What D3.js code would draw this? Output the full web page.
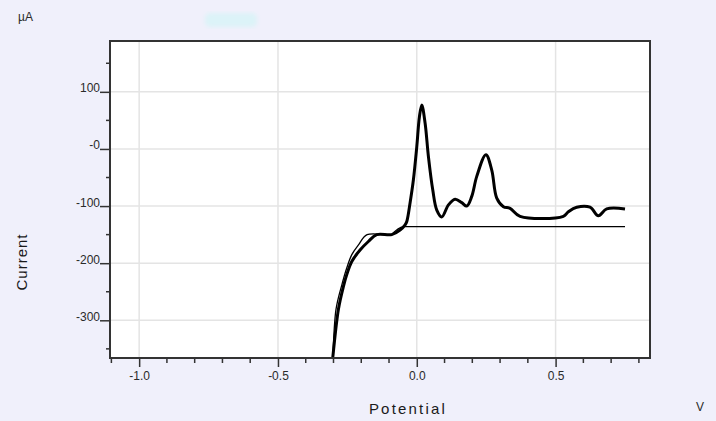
<!DOCTYPE html>
<html>
<head>
<meta charset="utf-8">
<script src="https://cdn.jsdelivr.net/npm/d3@7"></script>
<style>
  body { margin: 0; background: #f0f0fb; }
  svg { display: block; font-family: "Liberation Sans", Arial, sans-serif; }
</style>
</head>
<body>
<div id="chart"></div>
<script>
// forward sweep (thick trace), potential in V, current in uA
const fwdV = [-0.307, -0.3026, -0.2824, -0.2644, -0.2522, -0.2341, -0.2043, -0.1744, -0.1441, -0.0901,
  -0.0602, -0.0421, -0.036, -0.0241, -0.0122, 0.0, 0.0094, 0.018, 0.030, 0.0418, 0.0576, 0.072,
  0.090, 0.114, 0.138, 0.162, 0.180, 0.198, 0.216, 0.249, 0.270, 0.288, 0.312, 0.336, 0.372,
  0.528, 0.546, 0.576, 0.624, 0.654, 0.684, 0.750];
const fwdI = [-386, -365, -281, -241, -220, -197, -177, -162, -150, -150,
  -142, -133, -127, -94, -54, 4, 56, 77, 45, -13, -72, -107,
  -119, -98, -88, -94, -100, -83, -48, -10, -37, -86, -101, -104, -118,
  -118, -110, -102, -102, -117, -105, -105];

// return sweep / baseline (thin trace)
const revV = [0.750, -0.0386, -0.049, -0.067, -0.085, -0.0926, -0.179, -0.210, -0.234, -0.252, -0.270, -0.291, -0.303, -0.307];
const revI = [-136, -136, -136, -140, -147, -150, -150, -168, -185, -208, -238, -281, -365, -386];

const xTicks = [-1.0, -0.5, 0.0, 0.5];
const xMinor = [-1.1, -0.9, -0.8, -0.7, -0.6, -0.4, -0.3, -0.2, -0.1, 0.1, 0.2, 0.3, 0.4, 0.6, 0.7, 0.8];
const xLabels = ["-1.0", "-0.5", "0.0", "0.5"];
const yTicks = [100, 0, -100, -200, -300];
const yMinor = [150, 50, -50, -150, -250, -350];
const yLabels = ["100", "-0", "-100", "-200", "-300"];

const svgWidth = 716, svgHeight = 421;
const margin = { top: 41, right: 66, bottom: 63, left: 110 };
const width = svgWidth - margin.left - margin.right;
const height = svgHeight - margin.top - margin.bottom;

const svg = d3.select("#chart").append("svg")
  .attr("width", svgWidth)
  .attr("height", svgHeight);

// faint smudge near the title area
const defs = svg.append("defs");
defs.append("filter").attr("id", "blur").append("feGaussianBlur").attr("stdDeviation", 2);
defs.append("clipPath").attr("id", "plotclip").append("rect")
  .attr("width", width).attr("height", height);

svg.append("rect")
  .attr("x", 205).attr("y", 13).attr("width", 52).attr("height", 14).attr("rx", 5)
  .attr("fill", "#dcf3f8").attr("filter", "url(#blur)");

const chart = svg.append("g")
  .attr("transform", `translate(${margin.left}, ${margin.top})`);

const xScale = d3.scaleLinear().domain([-1.105, 0.84]).range([0, width]);
const yScale = d3.scaleLinear().domain([-366, 189]).range([height, 0]);

chart.append("rect")
  .attr("width", width).attr("height", height)
  .attr("fill", "#fff");

// grid
chart.selectAll(".vgrid").data(xTicks).enter().append("line")
  .attr("x1", d => xScale(d)).attr("x2", d => xScale(d))
  .attr("y1", 0).attr("y2", height)
  .attr("stroke", "#e4e4e4").attr("stroke-width", 1.5);
chart.selectAll(".hgrid").data(yTicks).enter().append("line")
  .attr("x1", 0).attr("x2", width)
  .attr("y1", d => yScale(d)).attr("y2", d => yScale(d))
  .attr("stroke", "#e4e4e4").attr("stroke-width", 1.5);

// traces
const line = d3.line()
  .x(d => xScale(d[0]))
  .y(d => yScale(d[1]))
  .curve(d3.curveCatmullRom.alpha(0.5));

const plot = chart.append("g").attr("clip-path", "url(#plotclip)");
plot.append("path")
  .datum(revV.map((v, i) => [v, revI[i]]))
  .attr("d", line)
  .attr("fill", "none").attr("stroke", "#000").attr("stroke-width", 1.3);
plot.append("path")
  .datum(fwdV.map((v, i) => [v, fwdI[i]]))
  .attr("d", line)
  .attr("fill", "none").attr("stroke", "#000").attr("stroke-width", 3);

// frame
chart.append("rect")
  .attr("width", width).attr("height", height)
  .attr("fill", "none").attr("stroke", "#333").attr("stroke-width", 2);

// x axis
const xAxis = chart.append("g")
  .attr("transform", `translate(0, ${height})`)
  .call(d3.axisBottom(xScale).tickValues(xTicks).tickSize(9).tickFormat((d, i) => xLabels[i]));
xAxis.append("g").selectAll("line").data(xMinor).enter().append("line")
  .attr("x1", d => xScale(d)).attr("x2", d => xScale(d))
  .attr("y1", 0).attr("y2", 5).attr("stroke", "#333").attr("stroke-width", 1.5);

// y axis: labels sit on the tick like "100_"
const yAxis = chart.append("g")
  .call(d3.axisLeft(yScale).tickValues(yTicks).tickSize(10).tickFormat((d, i) => yLabels[i]));
yAxis.append("g").selectAll("line").data(yMinor).enter().append("line")
  .attr("x1", -4).attr("x2", 0)
  .attr("y1", d => yScale(d)).attr("y2", d => yScale(d))
  .attr("stroke", "#333").attr("stroke-width", 1.5);

[xAxis, yAxis].forEach(a => {
  a.select(".domain").remove();
  a.selectAll(".tick line").attr("stroke", "#333").attr("stroke-width", 1.5);
  a.selectAll("text").attr("font-size", 12).attr("fill", "#2a2a2a")
    .attr("font-family", "'Liberation Sans', Arial, sans-serif");
});
xAxis.selectAll("text").attr("y", 13).attr("dy", "0.71em");
yAxis.selectAll("text").attr("x", -10).attr("dy", "0em").attr("y", 0);

// labels
svg.append("text")
  .attr("x", 18).attr("y", 21)
  .attr("font-size", 12).attr("fill", "#2a2a2a")
  .text("µA");

svg.append("text")
  .attr("transform", "rotate(-90)")
  .attr("x", -262).attr("y", 27)
  .attr("font-size", 15).attr("fill", "#1a1a1a")
  .attr("letter-spacing", 1)
  .style("text-anchor", "middle")
  .text("Current");

svg.append("text")
  .attr("x", 408).attr("y", 414)
  .attr("font-size", 15).attr("fill", "#1a1a1a")
  .attr("letter-spacing", 2.2)
  .style("text-anchor", "middle")
  .text("Potential");

svg.append("text")
  .attr("x", 696).attr("y", 411)
  .attr("font-size", 12).attr("fill", "#2a2a2a")
  .text("V");
</script>
</body>
</html>
